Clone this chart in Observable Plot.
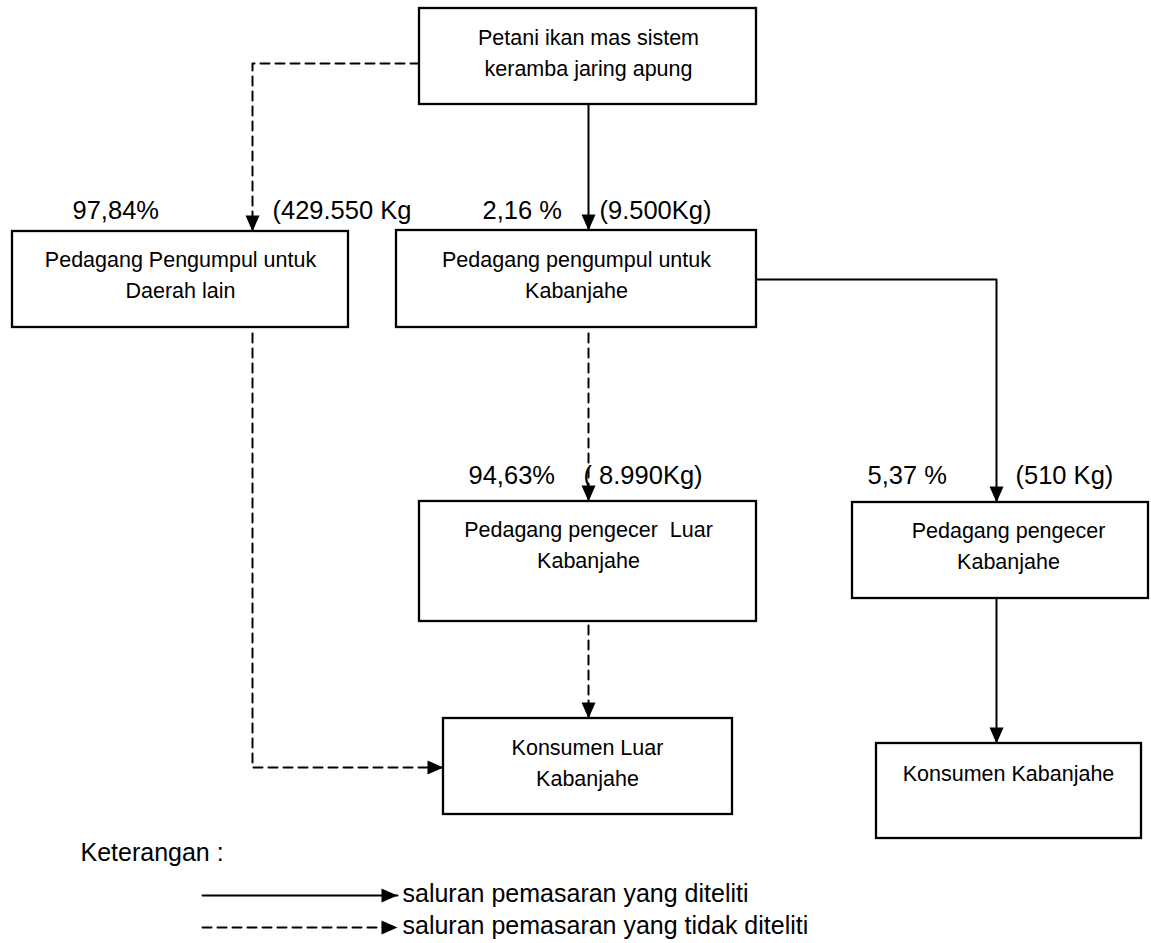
<!DOCTYPE html>
<html>
<head>
<meta charset="utf-8">
<script src="https://cdn.jsdelivr.net/npm/d3@7"></script>
<script src="https://cdn.jsdelivr.net/npm/@observablehq/plot@0.6"></script>
<style>
  html, body { margin: 0; padding: 0; background: #fff; }
  #chart svg { display: block; }
</style>
</head>
<body>
<div id="chart"></div>
<script>
// ---- Data ----
const nodeNames = [
  "Petani ikan mas sistem\nkeramba jaring apung",
  "Pedagang Pengumpul untuk\nDaerah lain",
  "Pedagang pengumpul untuk\nKabanjahe",
  "Pedagang pengecer  Luar\nKabanjahe",
  "Pedagang pengecer\nKabanjahe",
  "Konsumen Luar\nKabanjahe",
  "Konsumen Kabanjahe"
];
const shares  = ["97,84%", "2,16 %", "94,63%", "5,37 %"];
const volumes = ["(429.550 Kg", "(9.500Kg)", "( 8.990Kg)", "(510 Kg)"];
const legendTitle  = "Keterangan :";
const legendLabels = ["saluran pemasaran yang diteliti", "saluran pemasaran yang tidak diteliti"];
const legendStyles = ["solid", "dashed"];

// ---- Layout (diagram geometry, pixel space) ----
const boxX1 = [419, 12, 396, 419, 852, 443, 876];
const boxX2 = [756, 348, 756, 756, 1148, 732, 1141];
const boxY1 = [8, 231, 230, 501, 502, 718, 743];
const boxY2 = [104, 327, 327, 621, 598, 814, 838];
const textX = [588, 180, 576, 588, 1008, 587, 1008];
const textY = [50, 272, 272, 542, 543, 760, 771];

const shareX = [72, 482, 468, 867];
const volX   = [272, 599, 583, 1015];
const labelY = [218, 218, 483, 483];

// connectors: points..., direction of arrow at last point
const connectors = [
  {id: "A-B", style: "dashed", pts: [[419, 63], [252, 63], [252, 231]], rot: 0},
  {id: "A-C", style: "solid",  pts: [[588, 104], [588, 230]], rot: 0},
  {id: "B-F", style: "dashed", pts: [[252, 333], [252, 767], [443, 767]], rot: -90},
  {id: "C-D", style: "dashed", pts: [[588, 333], [588, 501]], rot: 0},
  {id: "C-E", style: "solid",  pts: [[756, 279], [996, 279], [996, 502]], rot: 0},
  {id: "D-F", style: "dashed", pts: [[588, 625], [588, 718]], rot: 0},
  {id: "E-G", style: "solid",  pts: [[996, 598], [996, 743]], rot: 0}
];
const legendLineX = [202, 397];
const legendLineY = [895, 927];

// ---- Build tables for Plot ----
const boxes = nodeNames.map((name, i) => ({
  name, x1: boxX1[i], x2: boxX2[i], y1: boxY1[i], y2: boxY2[i], tx: textX[i], ty: textY[i]
}));
const labels = [
  ...shares.map((t, i) => ({t, x: shareX[i], y: labelY[i]})),
  ...volumes.map((t, i) => ({t, x: volX[i], y: labelY[i]}))
];
const allConnectors = [
  ...connectors,
  ...legendStyles.map((s, i) => ({
    id: "legend" + i, style: s,
    pts: [[legendLineX[0], legendLineY[i]], [legendLineX[1], legendLineY[i]]], rot: -90
  }))
];
const linePts = allConnectors.flatMap(c => c.pts.map(([x, y]) => ({id: c.id, style: c.style, x, y})));
const heads = allConnectors.map(c => {
  const [x, y] = c.pts[c.pts.length - 1];
  return {x, y, rot: c.rot};
});
const legendTexts = legendLabels.map((t, i) => ({t, x: 402, y: legendLineY[i] + 6}));

// filled arrowhead, tip at origin, pointing down
const arrowHead = {
  draw(ctx) {
    ctx.moveTo(0, 0);
    ctx.lineTo(-7, -16);
    ctx.lineTo(7, -16);
    ctx.closePath();
  }
};

const W = 1151, H = 943;
const font = "'Liberation Sans', Arial, Helvetica, sans-serif";

const chart = Plot.plot({
  width: W,
  height: H,
  margin: 0,
  x: {domain: [0, W], range: [0, W], axis: null},
  y: {domain: [0, H], range: [0, H], axis: null},
  style: {fontFamily: font, background: "#fff", color: "#000"},
  marks: [
    Plot.line(linePts.filter(d => d.style === "solid"), {
      x: "x", y: "y", z: "id", stroke: "#000", strokeWidth: 2
    }),
    Plot.line(linePts.filter(d => d.style === "dashed"), {
      x: "x", y: "y", z: "id", stroke: "#000", strokeWidth: 2, strokeDasharray: "9,6"
    }),
    Plot.rect(boxes, {
      x1: "x1", x2: "x2", y1: "y1", y2: "y2",
      fill: "#fff", stroke: "#000", strokeWidth: 2.3
    }),
    Plot.dot(heads, {
      x: "x", y: "y", rotate: "rot", symbol: arrowHead, r: 5,
      fill: "#000", stroke: "none"
    }),
    Plot.text(boxes, {
      x: "tx", y: "ty", text: "name", fontSize: 21.5, lineHeight: 1.42,
      lineAnchor: "middle", textAnchor: "middle", fill: "#000"
    }),
    Plot.text(labels, {
      x: "x", y: "y", text: "t", fontSize: 25.5, textAnchor: "start",
      lineAnchor: "bottom", fill: "#000"
    }),
    Plot.text([legendTitle], {
      x: () => 80, y: () => 860, text: d => d, fontSize: 25, textAnchor: "start",
      lineAnchor: "bottom", fill: "#000"
    }),
    Plot.text(legendTexts, {
      x: "x", y: "y", text: "t", fontSize: 25, textAnchor: "start",
      lineAnchor: "bottom", fill: "#000"
    })
  ]
});

document.getElementById("chart").appendChild(chart);
</script>
</body>
</html>
